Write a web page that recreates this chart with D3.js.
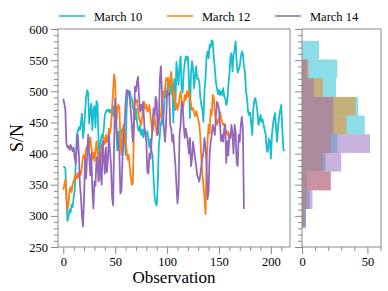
<!DOCTYPE html>
<html>
<head>
<meta charset="utf-8">
<script src="https://cdn.jsdelivr.net/npm/d3@7"></script>
<style>
  body { margin: 0; background: #fff; }
  text { font-family: "Liberation Serif", "DejaVu Serif", serif; }
</style>
</head>
<body>
<div id="chart"></div>
<script>
// S/N per observation
const march10 = [
  378, 379, 376, 332, 292, 298, 310, 305, 318, 314,
  330, 340, 385, 430, 436, 442, 438, 450, 464, 425,
  440, 468, 490, 502, 497, 448, 468, 480, 438, 470,
  476, 442, 484, 480, 418, 392, 420, 430, 425, 440,
  462, 466, 470, 468, 471, 466, 470, 462, 476, 460,
  452, 440, 405, 435, 410, 438, 430, 440, 425, 432,
  398, 470, 502, 495, 500, 492, 488, 475, 468, 455,
  472, 450, 440, 436, 445, 430, 438, 426, 440, 432,
  428, 436, 420, 410, 424, 403, 398, 360, 330, 320,
  317, 350, 412, 430, 448, 457, 446, 470, 505, 490,
  500, 518, 502, 512, 495, 515, 450, 520, 470, 547,
  530, 510, 540, 556, 505, 498, 530, 545, 556, 550,
  556, 520, 457, 530, 548, 537, 505, 525, 540, 520,
  521, 515, 490, 478, 470, 451, 500, 520, 555, 564,
  553, 575, 570, 582, 580, 553, 537, 515, 505, 495,
  502, 494, 500, 494, 505, 492, 489, 478, 484, 510,
  526, 555, 561, 532, 558, 566, 580, 548, 530, 535,
  540, 555, 564, 560, 540, 532, 500, 489, 467, 462,
  466, 448, 430, 470, 485, 489, 480, 467, 446, 452,
  462, 451, 455, 446, 438, 430, 405, 403, 424, 420,
  392, 430, 446, 458, 465, 440, 419, 445, 460, 470,
  478, 440, 408, 404
];
const march12 = [
  342, 350, 358, 330, 310, 318, 340, 346, 338, 350,
  356, 362, 367, 360, 368, 362, 372, 366, 380, 395,
  398, 392, 408, 412, 400, 418, 426, 410, 392, 402,
  388, 405, 420, 400, 380, 358, 390, 414, 405, 425,
  415, 430, 418, 426, 440, 432, 445, 472, 500, 527,
  515, 446, 470, 478, 475, 420, 398, 430, 446, 440,
  420, 405, 390, 398, 380, 362, 350, 352, 440, 489,
  482, 486, 470, 457, 450, 446, 460, 474, 483, 472,
  478, 467, 470, 478, 460, 446, 435, 446, 457, 445,
  430, 440, 452, 462, 458, 483, 500, 490, 505, 521,
  518, 522, 500, 515, 531, 510, 489, 500, 473, 480,
  470, 478, 490, 500, 485, 473, 480, 494, 486, 500,
  492, 502, 488, 480, 470, 473, 466, 460, 468, 462,
  455, 446, 428, 392, 366, 350, 330, 303, 382, 420,
  446, 432, 470, 462, 494, 490, 467, 452, 446, 455,
  450, 467, 458, 451, 446, 448, 440, 436, 430, 435,
  424, 428
];
const march14 = [
  488, 480, 470, 416, 410, 412, 406, 414, 408, 404,
  410, 392, 384, 410, 430, 400, 350, 330, 300, 283,
  330, 392, 360, 400, 430, 395, 365, 400, 340, 312,
  355, 348, 394, 380, 355, 403, 370, 350, 420, 395,
  368, 410, 370, 390, 430, 405, 380, 330, 317, 420,
  488, 446, 430, 414, 403, 336, 340, 390, 420, 446,
  480, 502, 496, 500, 489, 470, 446, 419, 450, 507,
  500, 515, 523, 489, 467, 478, 470, 483, 446, 430,
  419, 370, 368, 400, 392, 419, 446, 473, 460, 491,
  483, 430, 446, 520, 540, 500, 460, 440, 419, 446,
  500, 494, 498, 446, 440, 419, 430, 403, 381, 350,
  320, 340, 430, 446, 483, 478, 446, 425, 440, 430,
  419, 400, 425, 380, 392, 419, 405, 392, 380, 365,
  360, 355, 366, 380, 392, 402, 425, 410, 385, 327,
  340, 400, 419, 430, 446, 440, 430, 460, 483, 480,
  470, 446, 420, 430, 419, 440, 446, 385, 420, 397,
  430, 425, 446, 430, 400, 446, 435, 386, 380, 430,
  419, 445, 459, 440, 311
];

const seriesNames = ["March 10", "March 12", "March 14"];
const seriesColors = ["#17becf", "#ff7f0e", "#9467bd"];

// histogram bins (S/N) and counts, bottom bin first
const binEdges = [281, 311, 341, 371, 401, 431, 461, 491, 521, 551, 581];
const hist10 = [3, 6, 4, 18, 27, 48, 43, 26, 27, 13];
const hist12 = [2, 4, 22, 16, 22, 34, 41, 16, 5, 0];
const hist14 = [3, 8, 22, 30, 52, 24, 24, 9, 4, 0];

const yMajor = [250, 300, 350, 400, 450, 500, 550, 600];
const xMajor = [0, 50, 100, 150, 200];
const hMajor = [0, 50];

const W = 388, H = 291;
const main = { left: 58, right: 290, top: 29, bottom: 247 };
const side = { left: 302, right: 381 };
const axisColor = "#8a8a8a";

const svg = d3.select("#chart").append("svg")
  .attr("width", W)
  .attr("height", H);

const x = d3.scaleLinear().domain([-5.1, 218.4]).range([main.left, main.right]);
const y = d3.scaleLinear().domain([250, 600]).range([main.bottom, main.top]);
const xh = d3.scaleLinear().domain([0, 60.4]).range([side.left, side.right]);

// minor ticks every 10
const yMinor = d3.range(250, 601, 10).filter(v => v % 50 !== 0);
const xMinor = d3.range(0, 211, 10).filter(v => v % 50 !== 0);
const hMinor = [10, 20, 30, 40, 60];

function styleAxis(g) {
  g.selectAll("path, line").attr("stroke", axisColor).attr("stroke-width", 1);
  g.selectAll("text").attr("font-size", 12.5).attr("fill", "#000")
    .attr("font-family", '"Liberation Serif", serif');
}

// histogram (drawn first so frame sits on top)
const histSets = [hist10, hist12, hist14];
histSets.forEach((counts, k) => {
  svg.append("g").selectAll("rect")
    .data(counts)
    .enter()
    .append("rect")
    .attr("x", xh(0))
    .attr("y", (d, i) => y(binEdges[i + 1]))
    .attr("width", d => xh(d) - xh(0))
    .attr("height", (d, i) => y(binEdges[i]) - y(binEdges[i + 1]))
    .attr("fill", seriesColors[k])
    .attr("fill-opacity", 0.5);
});

// lines
const line = d3.line()
  .x((d, i) => x(i))
  .y(d => y(d));

[march10, march12, march14].forEach((s, k) => {
  svg.append("path")
    .datum(s)
    .attr("fill", "none")
    .attr("stroke", seriesColors[k])
    .attr("stroke-width", 1.8)
    .attr("stroke-linejoin", "round")
    .attr("d", line);
});

// frames
[[main.left, main.right], [side.left, side.right]].forEach(([l, r]) => {
  svg.append("rect")
    .attr("x", l).attr("y", main.top)
    .attr("width", r - l).attr("height", main.bottom - main.top)
    .attr("fill", "none")
    .attr("stroke", axisColor)
    .attr("stroke-width", 1);
});

// main axes
svg.append("g")
  .attr("transform", `translate(${main.left},0)`)
  .call(d3.axisLeft(y).tickValues(yMajor).tickSize(7).tickPadding(3).tickFormat(d3.format("d")))
  .call(g => g.select(".domain").remove())
  .call(styleAxis);
svg.append("g")
  .attr("transform", `translate(${main.left},0)`)
  .call(d3.axisLeft(y).tickValues(yMinor).tickSize(4).tickFormat(""))
  .call(g => g.select(".domain").remove())
  .call(styleAxis);

svg.append("g")
  .attr("transform", `translate(0,${main.bottom})`)
  .call(d3.axisBottom(x).tickValues(xMajor).tickSize(7).tickPadding(3).tickFormat(d3.format("d")))
  .call(g => g.select(".domain").remove())
  .call(styleAxis);
svg.append("g")
  .attr("transform", `translate(0,${main.bottom})`)
  .call(d3.axisBottom(x).tickValues(xMinor).tickSize(4).tickFormat(""))
  .call(g => g.select(".domain").remove())
  .call(styleAxis);

// side axes (shared y, no labels)
svg.append("g")
  .attr("transform", `translate(${side.left},0)`)
  .call(d3.axisLeft(y).tickValues(yMajor).tickSize(7).tickFormat(""))
  .call(g => g.select(".domain").remove())
  .call(styleAxis);
svg.append("g")
  .attr("transform", `translate(${side.left},0)`)
  .call(d3.axisLeft(y).tickValues(yMinor).tickSize(4).tickFormat(""))
  .call(g => g.select(".domain").remove())
  .call(styleAxis);

svg.append("g")
  .attr("transform", `translate(0,${main.bottom})`)
  .call(d3.axisBottom(xh).tickValues(hMajor).tickSize(7).tickPadding(3).tickFormat(d3.format("d")))
  .call(g => g.select(".domain").remove())
  .call(styleAxis);
svg.append("g")
  .attr("transform", `translate(0,${main.bottom})`)
  .call(d3.axisBottom(xh).tickValues(hMinor).tickSize(4).tickFormat(""))
  .call(g => g.select(".domain").remove())
  .call(styleAxis);

// axis labels
svg.append("text")
  .attr("x", (main.left + main.right) / 2)
  .attr("y", 283)
  .attr("text-anchor", "middle")
  .attr("font-size", 17)
  .text("Observation");

svg.append("text")
  .attr("transform", `translate(23,${(main.top + main.bottom) / 2}) rotate(-90)`)
  .attr("text-anchor", "middle")
  .attr("font-size", 18)
  .text("S/N");

// legend
const legendX = [59, 167, 275];
seriesNames.forEach((name, k) => {
  const g = svg.append("g").attr("transform", `translate(${legendX[k]},16)`);
  g.append("line")
    .attr("x1", 0).attr("x2", 26)
    .attr("stroke", seriesColors[k])
    .attr("stroke-width", 1.5);
  g.append("text")
    .attr("x", 35)
    .attr("y", 4.5)
    .attr("font-size", 12.5)
    .text(name);
});
</script>
</body>
</html>
